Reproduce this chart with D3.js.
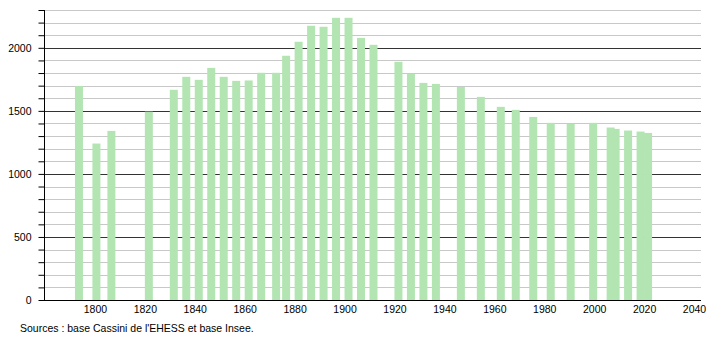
<!DOCTYPE html>
<html>
<head>
<meta charset="utf-8">
<script src="https://cdn.jsdelivr.net/npm/d3@7"></script>
<style>
  html, body { margin: 0; padding: 0; background: #fff; }
  svg { display: block; font-family: "Liberation Sans", Arial, sans-serif; }
</style>
</head>
<body>
<svg id="chart" width="710" height="340"></svg>
<script>
const years = [1793, 1800, 1806, 1821, 1831, 1836, 1841, 1846, 1851, 1856, 1861, 1866,
  1872, 1876, 1881, 1886, 1891, 1896, 1901, 1906, 1911, 1921, 1926, 1931, 1936,
  1946, 1954, 1962, 1968, 1975, 1982, 1990, 1999, 2006, 2008, 2013, 2018, 2021];
const population = [1698, 1241, 1341, 1494, 1667, 1770, 1746, 1841, 1770, 1738, 1741, 1802,
  1802, 1937, 2048, 2175, 2167, 2238, 2238, 2079, 2024, 1889, 1794, 1722, 1714,
  1690, 1611, 1532, 1508, 1452, 1405, 1397, 1405, 1368, 1357, 1344, 1336, 1325];
const xTickLabels = [1800, 1820, 1840, 1860, 1880, 1900, 1920, 1940, 1960, 1980, 2000, 2020, 2040];
const yTickLabels = [0, 500, 1000, 1500, 2000];
const yGridValues = d3.range(0, 2301, 100);
const sourceText = "Sources : base Cassini de l'EHESS et base Insee.";

(function () {
const svg = d3.select("#chart");
const mLeft = 44, mRight = 701, mTop = 10, mBottom = 300;
const x = d3.scaleLinear().domain([1780, 2040]).range([45, 694]);
const y = d3.scaleLinear().domain([0, 2300]).range([mBottom, mTop]);
const barW = 8;

// grid lines
svg.append("g").selectAll("line").data(yGridValues.filter(v => v > 0)).join("line")
  .attr("x1", mLeft).attr("x2", mRight)
  .attr("y1", d => Math.round(y(d)) + 0.5).attr("y2", d => Math.round(y(d)) + 0.5)
  .attr("stroke", d => d % 500 === 0 ? "#333" : "#c8c8c8")
  .attr("stroke-width", 1);

// bars
svg.append("g").selectAll("rect").data(years.map((yr, i) => ({yr, v: population[i]}))).join("rect")
  .attr("x", d => x(d.yr + 0.6) - barW / 2)
  .attr("y", d => y(d.v))
  .attr("width", barW)
  .attr("height", d => y(0) - y(d.v))
  .attr("fill", "#b3e5b3");

// y axis
const yAxis = d3.axisLeft(y).tickValues(yGridValues).tickSize(6)
  .tickFormat(d => yTickLabels.includes(d) ? d : "");
const gy = svg.append("g").attr("transform", `translate(${mLeft + 0.5},0)`).call(yAxis);
gy.select(".domain").attr("stroke", "#000").attr("d", `M0,${mTop}V${mBottom}`);
gy.selectAll(".tick line").attr("stroke", "#000");
gy.selectAll(".tick text").attr("font-size", "10.5px").attr("fill", "#000")
  .attr("font-family", "Liberation Sans, Arial, sans-serif").attr("x", -13);

// x axis
const xAxis = d3.axisBottom(x).tickValues(xTickLabels).tickSize(0).tickFormat(d3.format("d"));
const gx = svg.append("g").attr("transform", `translate(0,${mBottom + 0.5})`).call(xAxis);
gx.select(".domain").attr("stroke", "#000").attr("d", `M${mLeft},0H${mRight}`);
gx.selectAll(".tick text").attr("font-size", "10.5px").attr("fill", "#000")
  .attr("font-family", "Liberation Sans, Arial, sans-serif").attr("dy", "0").attr("y", 12);

// source
svg.append("text").attr("x", 20).attr("y", 332)
  .attr("font-size", "10.5px").attr("fill", "#000")
  .text(sourceText);
})();
</script>
</body>
</html>
